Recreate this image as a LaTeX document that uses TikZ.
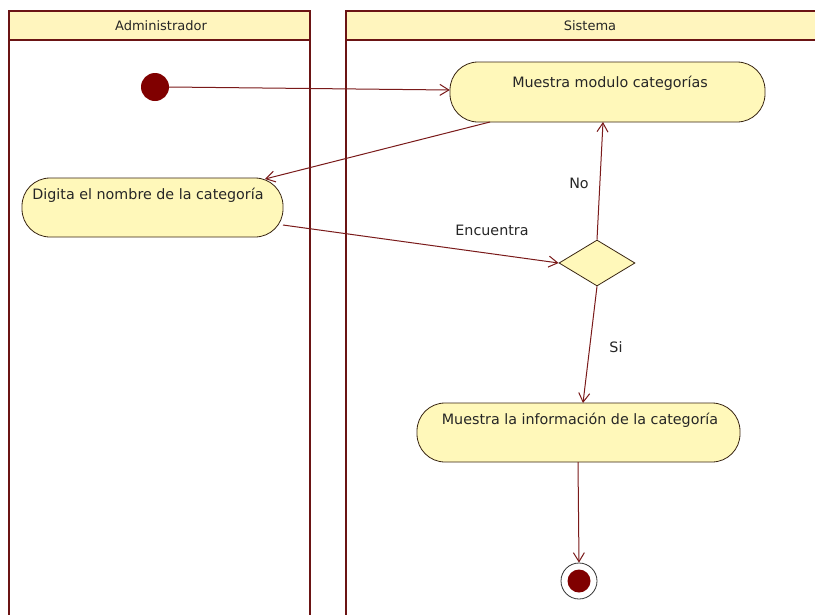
\documentclass[tikz,border=0pt]{standalone}
\usepackage{fontspec}
\setmainfont{DejaVu Sans}
\usetikzlibrary{arrows.meta,shapes.geometric}
\definecolor{lanec}{HTML}{6B1414}
\definecolor{hdr}{HTML}{FFF5BE}
\definecolor{act}{HTML}{FFF8BA}
\definecolor{edgec}{HTML}{7A1A1A}
\definecolor{dot}{HTML}{800000}
\begin{document}
\begin{tikzpicture}[x=1pt,y=-1pt,
  lane/.style={draw=lanec,line width=2.8pt},
  hdrbox/.style={draw=lanec,line width=2.8pt,fill=hdr},
  action/.style={draw=black!70!brown,fill=act,rounded corners=28pt,line width=0.8pt},
  acttext/.style={font=\fontsize{14.3}{16}\selectfont,text=black!85},
  flow/.style={draw=edgec,line width=1pt,-{Straight Barb[length=9pt,width=11pt,line width=1pt]}},
  lbl/.style={font=\fontsize{14.3}{16}\selectfont,text=black!85},
  hdrtext/.style={font=\fontsize{13}{15}\selectfont,text=black!85}]
\useasboundingbox (0,0) rectangle (815,614);
\fill[white] (0,0) rectangle (815,614);
% lanes
\draw[lane] (9,11) rectangle (310,640);
\filldraw[hdrbox] (9,11) rectangle (310,40);
\node[hdrtext] (hA) at (161,26) {Administrador};
\draw[lane] (346,11) rectangle (830,640);
\filldraw[hdrbox] (346,11) rectangle (830,40);
\node[hdrtext] (hS) at (590,26) {Sistema};
% initial
\node[circle,fill=dot,minimum size=28pt,inner sep=0pt] (ini) at (155,87) {};
% actions
\draw[action] (450,62) rectangle (765,122);
\node[minimum width=315pt,minimum height=60pt,inner sep=0pt] (m1) at (607.5,92) {};
\node[acttext] (m1t) at (610,83) {Muestra modulo categorías};
\draw[action] (22,178) rectangle (283,237);
\node[minimum width=261pt,minimum height=59pt,inner sep=0pt] (dg) at (152.5,207.5) {};
\node[acttext] (dgt) at (148,195) {Digita el nombre de la categoría};
\draw[action] (417,403) rectangle (740,462);
\node[minimum width=323pt,minimum height=59pt,inner sep=0pt] (mi) at (578.5,432.5) {};
\node[acttext] (mit) at (580,420) {Muestra la información de la categoría};
% decision
\node[diamond,draw=black!70!brown,fill=act,line width=0.8pt,minimum width=76pt,minimum height=46pt,inner sep=0pt,aspect=1.65] (dec) at (597,263) {};
% final
\node[circle,draw=black!80,fill=white,line width=0.8pt,minimum size=36pt,inner sep=0pt] (fin) at (579,581) {};
\node[circle,fill=dot,minimum size=23pt,inner sep=0pt] (fin2) at (fin) {};
% flows
\draw[flow] (ini.east) -- (m1.west |- 0,90);
\draw[flow] (490,122) -- (265,179);
\draw[flow] (283,225) -- (dec.west);
\node[lbl] (le) at (492,230) {Encuentra};
\draw[flow] (dec.north) -- (603,122);
\node[lbl] (lno) at (579,183) {No};
\draw[flow] (dec.south) -- (583,403);
\node[lbl] (lsi) at (616,347) {Si};
\draw[flow] (578,462) -- (fin.north);
\end{tikzpicture}
\end{document}
